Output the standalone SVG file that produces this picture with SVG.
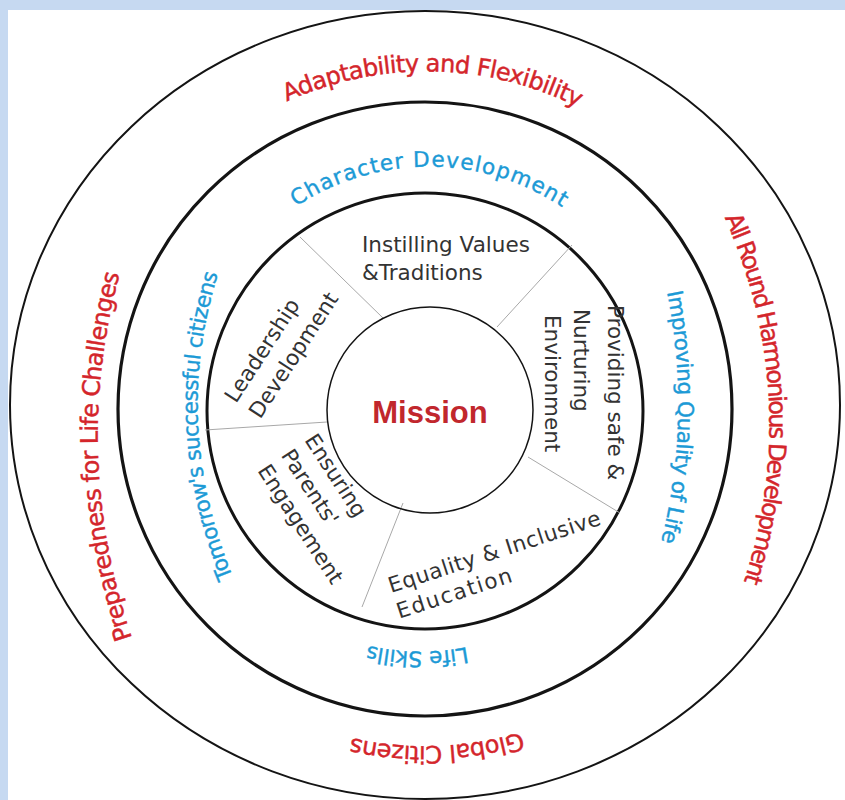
<svg xmlns="http://www.w3.org/2000/svg" width="845" height="800" viewBox="0 0 845 800">
<style>
.ring{fill:none;stroke:#141414}
.seg{stroke:#a8a8a8;stroke-width:1}
.red{fill:#d4252b;stroke:#d4252b;stroke-width:0.45;font-family:"DejaVu Sans","Liberation Sans",sans-serif;font-size:24px}
.blue{fill:#1c9ad6;stroke:#1c9ad6;stroke-width:0.4;font-family:"DejaVu Sans","Liberation Sans",sans-serif;font-size:21.5px}
.lbl{fill:#333333;font-family:"DejaVu Sans","Liberation Sans",sans-serif;font-size:21.5px}
.mission{fill:#c1272d;font-family:"Liberation Sans",Arial,sans-serif;font-weight:bold;font-size:31px}
</style>
<defs>
<path id="p-adapt" d="M 286.9 101.6 A 337 337 0 1 1 563.1 716.4 A 337 337 0 1 1 286.9 101.6"/>
<path id="p-allround" d="M 724.6 217.7 A 498 498 0 1 1 -184.6 624.3 A 498 498 0 1 1 724.6 217.7"/>
<path id="p-global" d="M 521.4 732.1 A 337 337 0 1 1 328.6 85.9 A 337 337 0 1 1 521.4 732.1"/>
<path id="p-prep" d="M 132 638 Q 69 452 122 266"/>
<path id="p-char" d="M 296.1 206.6 A 240 240 0 1 1 553.9 611.4 A 240 240 0 1 1 296.1 206.6"/>
<path id="p-impr" d="M 667 292 Q 692.5 421 660 546"/>
<path id="p-life" d="M 467.0 647.3 A 242 242 0 1 1 383.0 170.7 A 242 242 0 1 1 467.0 647.3"/>
<path id="p-tomo" d="M 233 577 Q 169.5 421.5 220 268"/>
</defs>
<rect x="0" y="0" width="845" height="800" fill="#c6d9f1"/>
<rect x="8" y="10" width="837" height="790" fill="#ffffff"/>

<g id="rings">
<ellipse class="ring" cx="425" cy="405" rx="415" ry="394" stroke-width="2"/>
<circle class="ring" cx="425" cy="409" r="307" stroke-width="3.2"/>
<circle class="ring" cx="425" cy="411" r="218" stroke-width="3"/>
</g>

<g id="connectors">
<line class="seg" x1="300" y1="237" x2="383" y2="318"/>
<line class="seg" x1="572" y1="245" x2="497" y2="327"/>
<line class="seg" x1="528" y1="457" x2="620" y2="513"/>
<line class="seg" x1="403" y1="503" x2="362" y2="607"/>
<line class="seg" x1="205" y1="430" x2="327" y2="422"/>
</g>

<g id="outer-ring-labels">
<text class="red"><textPath href="#p-adapt" textLength="301" lengthAdjust="spacing">Adaptability and Flexibility</textPath></text>
<text class="red"><textPath href="#p-allround" textLength="373" lengthAdjust="spacing">All Round Harmonious Development</textPath></text>
<text class="red"><textPath href="#p-global" textLength="172" lengthAdjust="spacing">Global Citizens</textPath></text>
<text class="red"><textPath href="#p-prep" textLength="370" lengthAdjust="spacing">Preparedness for Life Challenges</textPath></text>
</g>

<g id="middle-ring-labels">
<text class="blue"><textPath href="#p-char" textLength="282" lengthAdjust="spacing">Character Development</textPath></text>
<text class="blue"><textPath href="#p-impr" textLength="252" lengthAdjust="spacing">Improving Quality of Life</textPath></text>
<text class="blue"><textPath href="#p-life" textLength="100" lengthAdjust="spacing">Life Skills</textPath></text>
<text class="blue"><textPath href="#p-tomo" textLength="310" lengthAdjust="spacing">Tomorrow's successful citizens</textPath></text>
</g>

<g id="seg-values">
<text class="lbl" x="362" y="252">Instilling Values</text>
<text class="lbl" x="362" y="280">&amp;Traditions</text>
</g>
<g id="seg-safe" transform="translate(608,305) rotate(90)">
<text class="lbl" x="0" y="0">Providing safe &amp;</text>
<text class="lbl" x="4" y="34">Nurturing</text>
<text class="lbl" x="10" y="63">Environment</text>
</g>
<g id="seg-equality" transform="translate(391,593) rotate(-18)">
<text class="lbl" x="0" y="0" textLength="222" lengthAdjust="spacing">Equality &amp; Inclusive</text>
<text class="lbl" x="0" y="27" textLength="120" lengthAdjust="spacing">Education</text>
</g>
<g id="seg-parents" transform="translate(304,440) rotate(57)">
<text class="lbl" x="0" y="0">Ensuring</text>
<text class="lbl" x="0" y="28">Parents'</text>
<text class="lbl" x="0" y="56">Engagement</text>
</g>
<g id="seg-leadership" transform="translate(236,404) rotate(-57)">
<text class="lbl" x="0" y="0">Leadership</text>
<text class="lbl" x="0" y="29">Development</text>
</g>

<g id="mission">
<circle class="ring" cx="430" cy="410" r="103" stroke-width="1.5"/>
<text class="mission" x="430" y="423" text-anchor="middle">Mission</text>
</g>
</svg>
